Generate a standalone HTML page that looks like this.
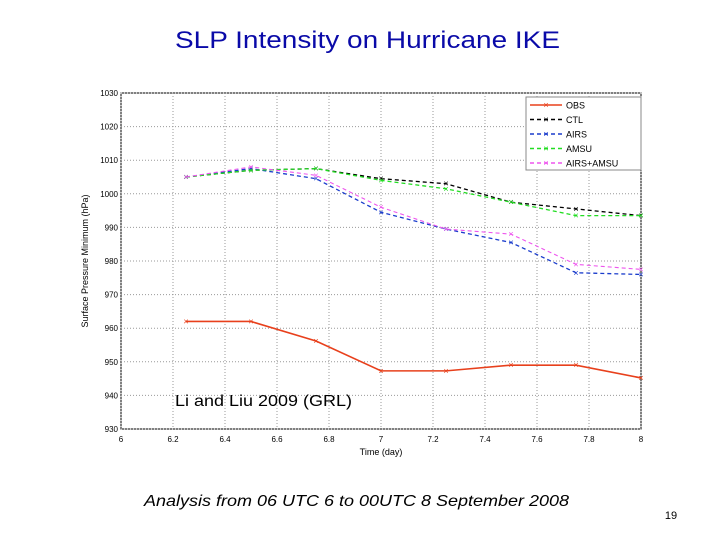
<!DOCTYPE html>
<html><head><meta charset="utf-8"><style>
body{margin:0;width:720px;height:540px;background:#fff;overflow:hidden;font-family:"Liberation Sans",sans-serif}
</style></head><body>
<svg id="c" width="720" height="540" xmlns="http://www.w3.org/2000/svg">
<text x="175" y="48" font-size="24" fill="#0a0aa8" textLength="385" lengthAdjust="spacingAndGlyphs">SLP Intensity on Hurricane IKE</text>
<g id="grid"></g><g id="axes"></g><g id="series"></g>
<text x="175" y="406" font-size="16" textLength="177" lengthAdjust="spacingAndGlyphs">Li and Liu 2009 (GRL)</text>
<text x="144" y="506" font-size="16" font-style="italic" textLength="425" lengthAdjust="spacingAndGlyphs">Analysis from 06 UTC 6 to 00UTC 8 September 2008</text>
<text x="671" y="519" font-size="11" text-anchor="middle">19</text>
</svg>
<script>
const times=[6.25,6.5,6.75,7,7.25,7.5,7.75,8];
const obs=[962,962,956.2,947.3,947.3,949,949,945.2];
const ctl=[1005,1007,1007.5,1004.5,1003,997.5,995.5,993.5];
const airs=[1005,1007.5,1004.5,994.5,989.5,985.5,976.5,976];
const amsu=[1005,1007,1007.5,1004,1001.5,997.5,993.5,993.5];
const airsAmsu=[1005,1008,1005.5,996,989.5,988,979,977.5];
const xTicks=[6,6.2,6.4,6.6,6.8,7,7.2,7.4,7.6,7.8,8];
const xTickLabels=["6","6.2","6.4","6.6","6.8","7","7.2","7.4","7.6","7.8","8"];
const yTicks=[930,940,950,960,970,980,990,1000,1010,1020,1030];
const seriesNames=["OBS","CTL","AIRS","AMSU","AIRS+AMSU"];
const L=121,R=641,T=93,B=429;
const xs=v=>L+(v-6)/2*(R-L), ys=v=>B-(v-930)/100*(B-T);
const NS="http://www.w3.org/2000/svg";
function mk(tag,attrs,parent,text){const e=document.createElementNS(NS,tag);for(const k in attrs)e.setAttribute(k,attrs[k]);if(text!==undefined)e.textContent=text;parent.appendChild(e);return e;}
const grid=document.getElementById('grid'),axes=document.getElementById('axes'),ser=document.getElementById('series');
mk('rect',{x:L,y:T,width:R-L,height:B-T,fill:'#fff',stroke:'#000','stroke-width':1},grid);
xTicks.forEach((t,i)=>{const x=xs(t);
 const g=mk('line',{x1:x,y1:T,x2:x,y2:B,stroke:'#999','stroke-dasharray':'1,2'},grid);
 
 const tx=mk('text',{x:x,y:B+13,'font-size':8,'text-anchor':'middle'},axes,xTickLabels[i]);
 });
yTicks.forEach(t=>{const y=ys(t);
 const g=mk('line',{x1:L,y1:y,x2:R,y2:y,stroke:'#999','stroke-dasharray':'1,2'},grid);
 
 const tx=mk('text',{x:L-3,y:y+3,'font-size':8,'text-anchor':'end'},axes,String(t));
 });
const xl=mk('text',{x:(L+R)/2,y:B+26,'font-size':9,'text-anchor':'middle'},axes,'Time (day)');

const yl=mk('text',{x:0,y:0,'font-size':9,'text-anchor':'middle',transform:`translate(88,${(T+B)/2}) rotate(-90)`},axes,'Surface Pressure Minimum (hPa)');

const data=[obs,ctl,airs,amsu,airsAmsu];
const cols=['#e8401c','#000','#1a3ccc','#22dd22','#ee55ee'];
const dash=['','4,3','4,3','4,3','4,3'];
const widths=[1.6,1.3,1.3,1.3,1.1];
data.forEach((d,si)=>{
 const p=mk('polyline',{points:d.map((v,i)=>xs(times[i])+','+ys(v)).join(' '),fill:'none',stroke:cols[si],'stroke-width':widths[si],'stroke-dasharray':dash[si]},ser);
 
 d.forEach((v,i)=>{const m=mk('text',{x:xs(times[i]),y:ys(v)+3,'font-size':9,'text-anchor':'middle',fill:cols[si]},ser,'×');
  });
});
const lg=mk('g',{},ser);

mk('rect',{x:526,y:97,width:115,height:73,fill:'#fff',stroke:'#888','stroke-width':1},lg);
seriesNames.forEach((n,i)=>{const y=105+i*14.5;
 const e=mk('g',{},lg);
 
 mk('line',{x1:530,y1:y,x2:562,y2:y,stroke:cols[i],'stroke-width':1.5,'stroke-dasharray':dash[i]},e);
 mk('text',{x:546,y:y+3,'font-size':9,'text-anchor':'middle',fill:cols[i]},e,'×');
 mk('text',{x:566,y:y+3.5,'font-size':9},e,n);});
</script>
</body></html>
